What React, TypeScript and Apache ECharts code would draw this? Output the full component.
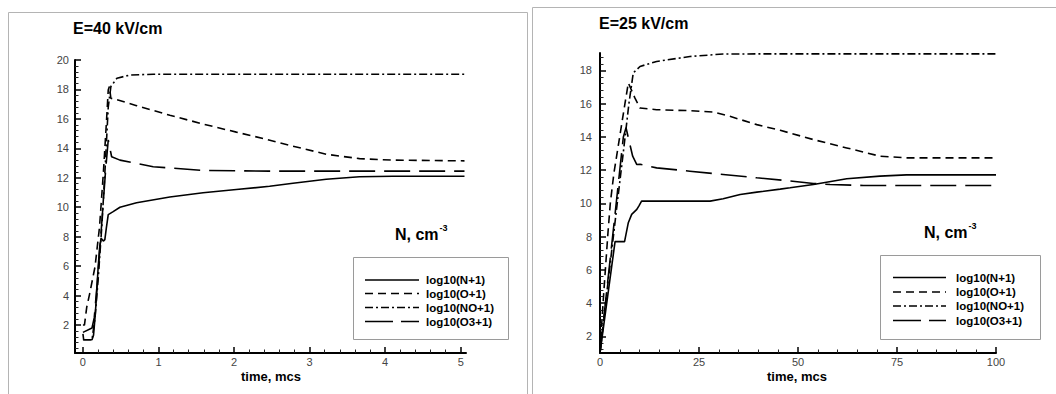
import React, { useEffect, useRef } from "react";
import * as echarts from "echarts";

// ---------- data: left chart (E=40 kV/cm, time 0..5 mcs) ----------
const leftNx = [0, 0.01, 0.12, 0.14, 0.16, 0.18, 0.2, 0.22, 0.24, 0.27, 0.29, 0.31, 0.335, 0.4, 0.49, 0.71, 1.15, 1.59, 2.03, 2.47, 2.78, 3.22, 3.66, 4.1, 4.5, 5.05];
const leftNy = [1.4, 1, 1, 1.3, 2.5, 4, 5.8, 7.2, 7.9, 7.7, 7.8, 8.6, 9.5, 9.7, 10.0, 10.3, 10.7, 10.98, 11.2, 11.42, 11.63, 11.9, 12.07, 12.1, 12.1, 12.1];

const leftOx = [0, 0.02, 0.05, 0.09, 0.16, 0.22, 0.27, 0.31, 0.335, 0.35, 0.37, 0.45, 0.71, 1.15, 1.59, 2.03, 2.4, 2.78, 3.22, 3.66, 4.1, 5.05];
const leftOy = [2, 2, 3.2, 4.15, 5.96, 8.68, 12.3, 15.7, 17.96, 18.2, 17.4, 17.3, 16.9, 16.25, 15.65, 15.1, 14.65, 14.15, 13.6, 13.3, 13.2, 13.15];

const leftNOx = [0, 0.12, 0.16, 0.2, 0.25, 0.29, 0.335, 0.37, 0.45, 0.62, 0.93, 1.5, 5.05];
const leftNOy = [1, 1, 2.5, 5, 8.7, 12.3, 16.8, 18.2, 18.76, 18.98, 19.03, 19.03, 19.03];

const leftO3x = [0, 0.12, 0.15, 0.2, 0.25, 0.3, 0.335, 0.38, 0.49, 0.93, 1.59, 2.47, 5.05];
const leftO3y = [1.5, 1.8, 2.5, 5.5, 9, 12.5, 14.57, 13.43, 13.2, 12.75, 12.5, 12.45, 12.45];

// ---------- data: right chart (E=25 kV/cm, time 0..100 mcs) ----------
const rightNx = [0, 3.8, 6.2, 7.15, 8.0, 9.3, 9.8, 10.5, 27.8, 31.1, 35.4, 39.6, 45.5, 48, 53.9, 62.3, 70.7, 77.4, 100];
const rightNy = [1, 7.7, 7.7, 8.84, 9.34, 9.64, 9.84, 10.14, 10.14, 10.28, 10.54, 10.68, 10.86, 10.94, 11.14, 11.48, 11.64, 11.72, 11.72];

const rightOx = [0, 0.5, 1, 1.5, 2, 2.6, 3.5, 4.5, 5.5, 6.3, 7.15, 8.8, 10.1, 14.3, 22.7, 28.6, 32.8, 39.6, 45.5, 53.9, 62.3, 70.7, 77.4, 100];
const rightOy = [1, 3, 4.8, 6.5, 8.2, 10, 11.8, 13.3, 14.8, 16, 17.25, 16.35, 15.74, 15.64, 15.58, 15.5, 15.24, 14.74, 14.4, 13.84, 13.34, 12.84, 12.74, 12.74];

const rightNOx = [0, 2, 4.3, 6, 7.3, 8.4, 10.1, 14.3, 22.7, 31.1, 47.9, 100];
const rightNOy = [1, 5.2, 9.9, 13.3, 16, 17.85, 18.24, 18.54, 18.84, 18.99, 19.0, 19.0];

const rightO3x = [0, 2, 4, 5.9, 6.57, 8.25, 9.3, 10.1, 14.3, 22.7, 31.1, 39.6, 46, 53.9, 58.1, 66.5, 100];
const rightO3y = [1, 5.4, 9.8, 14, 14.55, 12.84, 12.34, 12.36, 12.14, 11.94, 11.74, 11.54, 11.4, 11.2, 11.14, 11.08, 11.08];

// ---------- ticks / labels ----------
const leftXTicks = [0, 1, 2, 3, 4, 5];
const leftYTicks = [2, 4, 6, 8, 10, 12, 14, 16, 18, 20];
const rightXTicks = [0, 25, 50, 75, 100];
const rightYTicks = [2, 4, 6, 8, 10, 12, 14, 16, 18];

const seriesNames = ["log10(N+1)", "log10(O+1)", "log10(NO+1)", "log10(O3+1)"];
const titles = ["E=40 kV/cm", "E=25 kV/cm"];
const unitText = "N, cm";
const unitSup = "-3";
const xTitle = "time, mcs";

const FONT = '"Liberation Sans", Arial, Helvetica, sans-serif';
const DASHES: any[] = ["solid", [8, 5], [8, 3, 2, 3], [26, 9]];
const GDASH: any[] = [null, [8, 5], [8, 3, 2, 3], [28, 8]];

function pairs(xs: number[], ys: number[]) {
  return xs.map((x, i) => [x, ys[i]]);
}

function minorValues(min: number, max: number, step: number, majors: number[]) {
  const out: number[] = [];
  const n = Math.round((max - min) / step);
  for (let i = 0; i <= n + 1; i++) {
    const v = Math.round((Math.ceil(min / step) * step + i * step) * 1000) / 1000;
    if (v < min || v > max) continue;
    if (majors.some((m) => Math.abs(m - v) < 1e-6)) continue;
    out.push(v);
  }
  return out;
}

function mainAxis(grid: number, pos: string, min: number, max: number, ticks: number[], margin: number) {
  return {
    type: "value",
    gridIndex: grid,
    position: pos,
    min,
    max,
    axisLine: { show: true, onZero: false, lineStyle: { color: "#000", width: 2 } },
    axisTick: { show: true, inside: true, length: 6, customValues: ticks, lineStyle: { color: "#000", width: 1.5 } },
    axisLabel: { show: true, customValues: ticks, color: "#444", fontSize: 11, fontFamily: FONT, margin },
    splitLine: { show: false },
    minorTick: { show: false },
  };
}

function minorAxis(grid: number, pos: string, min: number, max: number, vals: number[]) {
  return {
    type: "value",
    gridIndex: grid,
    position: pos,
    min,
    max,
    axisLine: { show: false, onZero: false },
    axisTick: { show: true, inside: true, length: 3.5, customValues: vals, lineStyle: { color: "#222", width: 1 } },
    axisLabel: { show: false },
    splitLine: { show: false },
  };
}

function txt(text: string, x: number, y: number, font: string, align = "left", color = "#000") {
  return {
    type: "text",
    style: {
      text,
      x,
      y,
      font,
      fill: color,
      align,
      verticalAlign: "middle",
      textAlign: align,
      textVerticalAlign: "middle",
    },
    silent: true,
  };
}

function legendBox(bx: number, by: number, bw: number, bh: number, rows: number[], lx1: number, lx2: number, tx: number) {
  const els: any[] = [
    {
      type: "rect",
      shape: { x: bx + 0.5, y: by + 0.5, width: bw, height: bh },
      style: { fill: "#fff", stroke: "#9a9a9a", lineWidth: 1 },
      silent: true,
    },
  ];
  seriesNames.forEach((name, i) => {
    const st: any = { stroke: "#000", lineWidth: 1.6 };
    if (GDASH[i]) st.lineDash = GDASH[i];
    els.push({ type: "line", shape: { x1: lx1, y1: rows[i], x2: lx2, y2: rows[i] }, style: st, silent: true });
    els.push(txt(name, tx, rows[i], `bold 11.5px ${FONT}`));
  });
  return els;
}

export default function App() {
  const ref = useRef<HTMLDivElement>(null);

  useEffect(() => {
    if (!ref.current) return;
    const chart = echarts.init(ref.current, undefined, { renderer: "svg" });

    const L = { min: -0.105, max: 5.07, ymin: 0.1, ymax: 20 };
    const R = { min: 0, max: 100, ymin: 1, ymax: 19.05 };

    const leftData = [pairs(leftNx, leftNy), pairs(leftOx, leftOy), pairs(leftNOx, leftNOy), pairs(leftO3x, leftO3y)];
    const rightData = [pairs(rightNx, rightNy), pairs(rightOx, rightOy), pairs(rightNOx, rightNOy), pairs(rightO3x, rightO3y)];

    const series: any[] = [];
    [leftData, rightData].forEach((set, g) => {
      set.forEach((d, i) => {
        series.push({
          type: "line",
          name: seriesNames[i],
          xAxisIndex: g * 2,
          yAxisIndex: g * 2,
          data: d,
          symbol: "none",
          smooth: false,
          silent: true,
          lineStyle: { color: "#000", width: 1.6, type: DASHES[i] },
        });
      });
    });

    const option: any = {
      animation: false,
      backgroundColor: "#fff",
      grid: [
        { left: 75, top: 60, width: 391, height: 293 },
        { left: 600, top: 53, width: 396, height: 300 },
      ],
      xAxis: [
        mainAxis(0, "bottom", L.min, L.max, leftXTicks, 3),
        minorAxis(0, "bottom", L.min, L.max, minorValues(0, 5, 0.2, leftXTicks)),
        mainAxis(1, "bottom", R.min, R.max, rightXTicks, 3),
        minorAxis(1, "bottom", R.min, R.max, minorValues(0, 100, 5, rightXTicks)),
      ],
      yAxis: [
        mainAxis(0, "left", L.ymin, L.ymax, leftYTicks, 6),
        minorAxis(0, "left", L.ymin, L.ymax, minorValues(0.4, 20, 0.4, leftYTicks)),
        mainAxis(1, "left", R.ymin, R.ymax, rightYTicks, 8),
        minorAxis(1, "left", R.ymin, R.ymax, minorValues(1.2, 19, 0.4, rightYTicks)),
      ],
      series,
      graphic: [
        {
          type: "rect",
          shape: { x: 8.5, y: 12.5, width: 519, height: 420 },
          style: { fill: "none", stroke: "#b4b4b4", lineWidth: 1 },
          silent: true,
          z: -10,
        },
        {
          type: "rect",
          shape: { x: 532.5, y: 7.5, width: 600, height: 420 },
          style: { fill: "none", stroke: "#b4b4b4", lineWidth: 1 },
          silent: true,
          z: -10,
        },
        txt(titles[0], 73, 28, `bold 16px ${FONT}`),
        txt(titles[1], 599, 23, `bold 16px ${FONT}`),
        txt(unitText, 395, 234, `bold 16px ${FONT}`),
        txt(unitSup, 439.5, 228, `bold 9px ${FONT}`),
        txt(unitText, 924, 232, `bold 16px ${FONT}`),
        txt(unitSup, 968.5, 226, `bold 9px ${FONT}`),
        txt(xTitle, 271, 376, `bold 13px ${FONT}`, "center"),
        txt(xTitle, 797, 376, `bold 13px ${FONT}`, "center"),
        ...legendBox(353, 257, 155, 82, [280, 293.5, 307.5, 321.5], 365, 419, 426),
        ...legendBox(880, 255, 160, 84, [277.5, 292, 306, 320.5], 893, 946, 956),
      ],
    };

    chart.setOption(option);
    return () => chart.dispose();
  }, []);

  return (
    <div
      ref={ref}
      style={{ position: "absolute", left: 0, top: 0, width: 1056, height: 394, background: "#fff" }}
    />
  );
}
